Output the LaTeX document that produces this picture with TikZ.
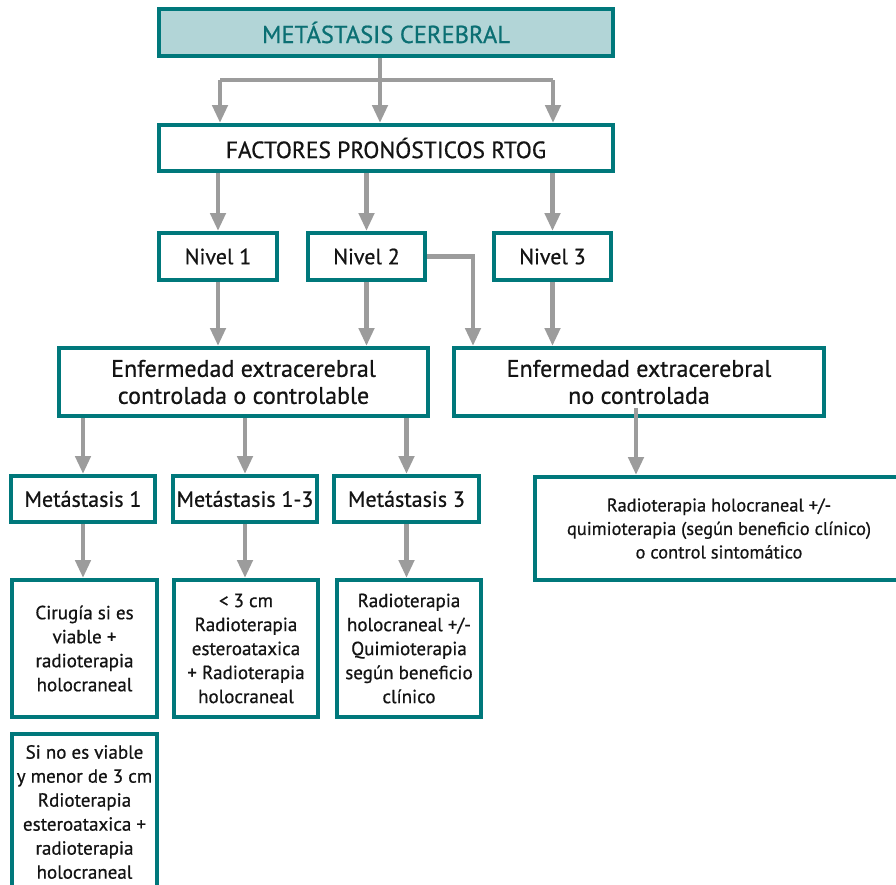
\documentclass[tikz,border=0pt]{standalone}
\usepackage{fontspec}
\setmainfont{PT Sans}[FakeBold=0.7]
\usetikzlibrary{arrows.meta}
\definecolor{tealline}{HTML}{00787B}
\definecolor{tealfill}{HTML}{B2D5D7}
\definecolor{tealtext}{HTML}{0B6F73}
\definecolor{arrowgray}{HTML}{9C9C9C}
\definecolor{textdark}{HTML}{141414}
\begin{document}
\begin{tikzpicture}[x=1pt,y=-1pt,
  box/.style={draw=tealline, line width=4pt, fill=white, align=center,
    inner sep=1pt, text=textdark, font=\fontsize{22}{27}\selectfont},
  big/.style={font=\fontsize{24}{27}\selectfont},
  small/.style={font=\fontsize{19}{24}\selectfont},
  note/.style={font=\fontsize{18.4}{23.5}\selectfont},
  link/.style={draw=arrowgray, line width=4.6pt},
  arr/.style={link, -{Triangle[width=15pt,length=18pt]}}]
\useasboundingbox (0,0) rectangle (896,884);
\clip (0,0) rectangle (896,884);

% title and prognostic factors
\node[box, fill=tealfill, text=tealtext, minimum width=454pt, minimum height=47pt,
  font=\fontsize{24.5}{28}\selectfont] (top) at (386,32.5) {METÁSTASIS CEREBRAL};
\node[box, minimum width=454pt, minimum height=46pt,
  font=\fontsize{23.5}{28}\selectfont] (fact) at (386,148) {FACTORES PRONÓSTICOS RTOG};

% RTOG levels
\node[box, minimum width=118pt, minimum height=47pt] (n1) at (218,256.5) {Nivel 1};
\node[box, minimum width=117pt, minimum height=47pt] (n2) at (366.5,256.5) {Nivel 2};
\node[box, minimum width=117pt, minimum height=47pt] (n3) at (552.5,256.5) {Nivel 3};

% extracranial disease status
\node[box, big, minimum width=369pt, minimum height=68pt] (e1) at (243.5,382)
  {Enfermedad extracerebral\\controlada o controlable};
\node[box, big, minimum width=370pt, minimum height=68pt] (e2) at (639,382)
  {Enfermedad extracerebral\\no controlada};

% number of metastases
\node[box, minimum width=144pt, minimum height=46pt] (m1) at (83,499) {Metástasis 1};
\node[box, minimum width=144pt, minimum height=46pt] (m2) at (245,499) {Metástasis 1-3};
\node[box, minimum width=145pt, minimum height=46pt] (m3) at (406.5,499) {Metástasis 3};

% treatments
\node[box, small, minimum width=145pt, minimum height=137pt] (b1) at (84.5,648.5)
  {Cirugía si es\\viable +\\radioterapia\\holocraneal};
\node[box, small, minimum width=144pt, minimum height=137pt] (b2) at (246,648.5)
  {< 3 cm\\Radioterapia\\esteroataxica\\+ Radioterapia\\holocraneal};
\node[box, small, minimum width=144pt, minimum height=137pt] (b3) at (409,648.5)
  {Radioterapia\\holocraneal +/-\\Quimioterapia\\según beneficio\\clínico};
\node[box, small, minimum width=145pt, minimum height=156pt] (b4) at (84.5,812)
  {Si no es viable\\y menor de 3 cm\\Rdioterapia\\esteroataxica +\\radioterapia\\holocraneal};
\node[box, note, minimum width=368pt, minimum height=103pt] (r) at (719,528.5)
  {Radioterapia holocraneal +/-\\quimioterapia (según beneficio clínico)\\o control sintomático};

% branching below the title
\coordinate (split) at (380,80);
\coordinate (sL) at (220,80);
\coordinate (sR) at (553,80);
\draw[link] (top.south -| split) -- (split);
\draw[link] (sL) -- (sR);
\draw[arr] (sL) -- (sL |- fact.north);
\draw[arr] (split) -- (split |- fact.north);
\draw[arr] (sR) -- (sR |- fact.north);

% factors to levels
\draw[arr] (n1.north |- fact.south) -- (n1.north);
\draw[arr] (n2.north |- fact.south) -- (n2.north);
\draw[arr] (n3.north |- fact.south) -- (n3.north);

% levels to disease status
\coordinate (bend) at (473,255);
\draw[arr] (n1.south) -- (n1.south |- e1.north);
\draw[arr] (n2.south) -- (n2.south |- e1.north);
\draw[arr] (n2.east) -| (bend |- e2.north);
\draw[arr] (n3.south) -- (n3.south |- e2.north);

% disease status to metastases / palliative care
\draw[arr] (m1.north |- e1.south) -- (m1.north);
\draw[arr] (m2.north |- e1.south) -- (m2.north);
\draw[arr] (m3.north |- e1.south) -- (m3.north);
\coordinate (rs) at (636,408);
\draw[arr] (rs) -- (rs |- r.north);

% metastases to treatments
\draw[arr] (m1.south) -- (b1.north -| m1.south);
\draw[arr] (m2.south) -- (b2.north -| m2.south);
\draw[arr] (m3.south) -- (b3.north -| m3.south);
\end{tikzpicture}
\end{document}
